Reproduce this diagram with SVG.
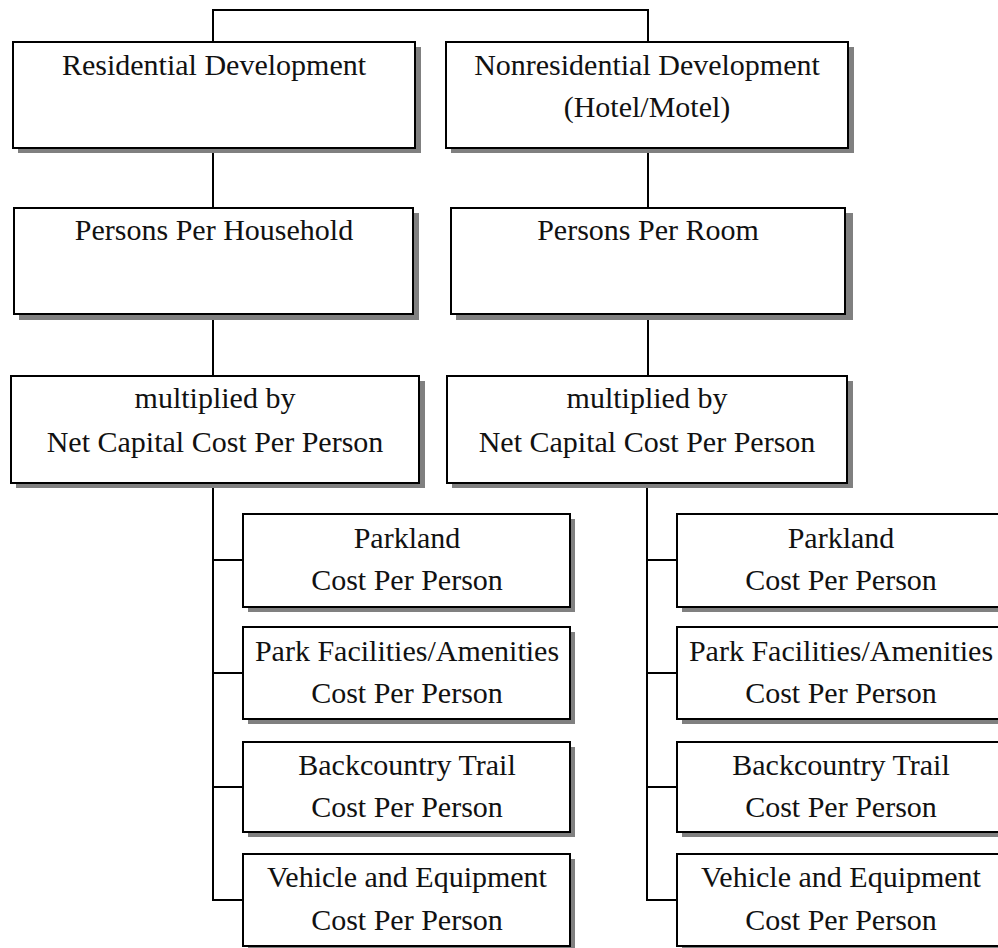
<svg xmlns="http://www.w3.org/2000/svg" width="998" height="948" viewBox="0 0 998 948">
<style>
.sh{fill:#808080;stroke:none}
.bx{fill:#fff;stroke:#000;stroke-width:2}
.t{font-family:"Liberation Serif","Times New Roman",serif;font-size:30px;fill:#111;text-anchor:middle}
.c{fill:none;stroke:#000;stroke-width:2}
</style>
<rect width="998" height="948" fill="#fff"/>
<g id="connectors">
<polyline class="c" points="213,42 213,10 648,10 648,42"/>
<line class="c" x1="213" y1="148" x2="213" y2="208"/>
<line class="c" x1="213" y1="314" x2="213" y2="376"/>
<line class="c" x1="648" y1="148" x2="648" y2="208"/>
<line class="c" x1="648" y1="314" x2="648" y2="376"/>
<polyline class="c" points="213,483 213,900 243,900"/>
<line class="c" x1="213" y1="560" x2="243" y2="560"/>
<line class="c" x1="213" y1="673" x2="243" y2="673"/>
<line class="c" x1="213" y1="787" x2="243" y2="787"/>
<polyline class="c" points="647,483 647,900 677,900"/>
<line class="c" x1="647" y1="560" x2="677" y2="560"/>
<line class="c" x1="647" y1="673" x2="677" y2="673"/>
<line class="c" x1="647" y1="787" x2="677" y2="787"/>
</g>
<g id="residential">
<rect class="sh" x="18" y="47" width="403" height="106"/>
<rect class="bx" x="13" y="42" width="402" height="106"/>
<text class="t" x="214" y="75">Residential Development</text>
</g>
<g id="nonresidential">
<rect class="sh" x="451" y="47" width="403" height="106"/>
<rect class="bx" x="446" y="42" width="402" height="106"/>
<text class="t" x="647" y="75">Nonresidential Development</text>
<text class="t" x="647" y="117">(Hotel/Motel)</text>
</g>
<g id="pph">
<rect class="sh" x="19" y="213" width="400" height="107"/>
<rect class="bx" x="14" y="208" width="399" height="106"/>
<text class="t" x="214" y="240">Persons Per Household</text>
</g>
<g id="ppr">
<rect class="sh" x="456" y="213" width="397" height="107"/>
<rect class="bx" x="451" y="208" width="394" height="106"/>
<text class="t" x="648" y="240">Persons Per Room</text>
</g>
<g id="mult-left">
<rect class="sh" x="16" y="381" width="409" height="107"/>
<rect class="bx" x="11" y="376" width="408" height="107"/>
<text class="t" x="215" y="408">multiplied by</text>
<text class="t" x="215" y="452">Net Capital Cost Per Person</text>
</g>
<g id="mult-right">
<rect class="sh" x="452" y="381" width="401" height="107"/>
<rect class="bx" x="447" y="376" width="400" height="107"/>
<text class="t" x="647" y="408">multiplied by</text>
<text class="t" x="647" y="452">Net Capital Cost Per Person</text>
</g>
<g id="l-parkland">
<rect class="sh" x="248" y="519" width="327" height="93"/>
<rect class="bx" x="243" y="514" width="327" height="93"/>
<text class="t" x="407" y="548">Parkland</text>
<text class="t" x="407" y="590">Cost Per Person</text>
</g>
<g id="l-facilities">
<rect class="sh" x="248" y="632" width="327" height="92"/>
<rect class="bx" x="243" y="627" width="327" height="92"/>
<text class="t" x="407" y="661">Park Facilities/Amenities</text>
<text class="t" x="407" y="703">Cost Per Person</text>
</g>
<g id="l-trail">
<rect class="sh" x="248" y="747" width="327" height="90"/>
<rect class="bx" x="243" y="742" width="327" height="90"/>
<text class="t" x="407" y="775">Backcountry Trail</text>
<text class="t" x="407" y="817">Cost Per Person</text>
</g>
<g id="l-vehicle">
<rect class="sh" x="248" y="859" width="327" height="92"/>
<rect class="bx" x="243" y="854" width="327" height="92"/>
<text class="t" x="407" y="887">Vehicle and Equipment</text>
<text class="t" x="407" y="930">Cost Per Person</text>
</g>
<g id="r-parkland">
<rect class="sh" x="682" y="519" width="328" height="93"/>
<rect class="bx" x="677" y="514" width="328" height="93"/>
<text class="t" x="841" y="548">Parkland</text>
<text class="t" x="841" y="590">Cost Per Person</text>
</g>
<g id="r-facilities">
<rect class="sh" x="682" y="632" width="328" height="92"/>
<rect class="bx" x="677" y="627" width="328" height="92"/>
<text class="t" x="841" y="661">Park Facilities/Amenities</text>
<text class="t" x="841" y="703">Cost Per Person</text>
</g>
<g id="r-trail">
<rect class="sh" x="682" y="747" width="328" height="90"/>
<rect class="bx" x="677" y="742" width="328" height="90"/>
<text class="t" x="841" y="775">Backcountry Trail</text>
<text class="t" x="841" y="817">Cost Per Person</text>
</g>
<g id="r-vehicle">
<rect class="sh" x="682" y="859" width="328" height="92"/>
<rect class="bx" x="677" y="854" width="328" height="92"/>
<text class="t" x="841" y="887">Vehicle and Equipment</text>
<text class="t" x="841" y="930">Cost Per Person</text>
</g>
</svg>
